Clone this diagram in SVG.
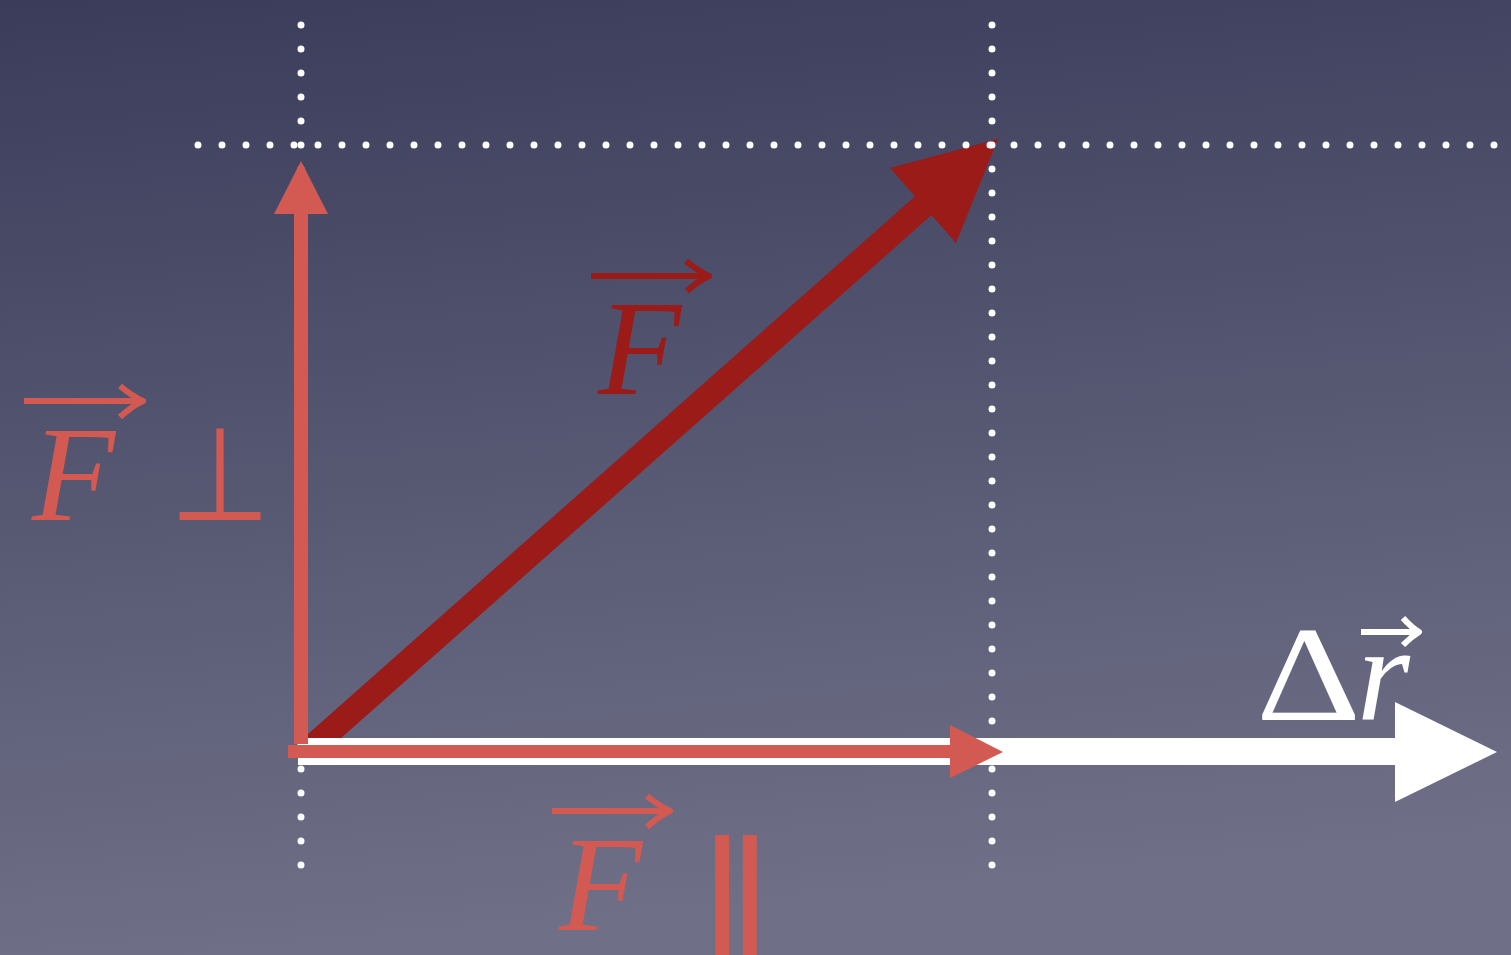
<svg xmlns="http://www.w3.org/2000/svg" width="1511" height="955" viewBox="0 0 1511 955">
  <defs>
    <linearGradient id="bg" x1="0" y1="0" x2="0.15" y2="1">
      <stop offset="0" stop-color="#3B3C5A"/>
      <stop offset="1" stop-color="#6F7087"/>
    </linearGradient>
    <style>
      .dots { stroke: #FFFFFF; stroke-width: 7; stroke-linecap: round; stroke-dasharray: 0 24; fill: none; }
      .lt { fill: #D35A52; }
      .dk { fill: #9A1B18; }
      .wh { fill: #FFFFFF; }
      .lbl { font-family: "Liberation Serif", "Times New Roman", serif; font-size: 136px; }
      .it { font-style: italic; }
      .sym { font-family: "DejaVu Sans", sans-serif; }
      .acc { fill: none; stroke-width: 6; stroke-linejoin: round; stroke-linecap: butt; }
      .accl { stroke: #D35A52; }
      .accd { stroke: #9A1B18; }
      .accw { stroke: #FFFFFF; }
    </style>
  </defs>
  <rect x="0" y="0" width="1511" height="955" fill="url(#bg)"/>

  <g id="force-vector">
    <line x1="311" y1="748" x2="924" y2="205" stroke="#9A1B18" stroke-width="25"/>
    <polygon class="dk" points="998,139 956,243 890,168"/>
  </g>

  <g id="guides">
    <line class="dots" x1="301" y1="25" x2="301" y2="866"/>
    <line class="dots" x1="992" y1="25" x2="992" y2="866"/>
    <line class="dots" x1="198" y1="145" x2="1496" y2="145"/>
  </g>

  <g id="displacement-vector">
    <rect class="wh" x="298" y="738" width="1099" height="27"/>
    <polygon class="wh" points="1395,702 1497,752 1395,802"/>
  </g>

  <g id="perpendicular-component">
    <rect class="lt" x="294" y="212" width="14" height="532"/>
    <polygon class="lt" points="301,161 328,214 274,214"/>
  </g>

  <g id="parallel-component">
    <rect class="lt" x="288" y="745" width="663" height="13"/>
    <polygon class="lt" points="950,725 1003,752 950,778"/>
  </g>

  <g id="label-F">
    <text class="lbl it" x="598" y="394" fill="#9A1B18">F</text>
    <line class="acc accd" x1="591" y1="276" x2="706" y2="276"/>
    <path class="acc accd" d="M686,261 Q698,271 709,276 Q698,281 687,291" stroke-width="5"/>
  </g>

  <g id="label-F-perp">
    <text class="lbl it" x="32" y="520" fill="#D35A52">F</text>
    <line class="acc accl" x1="24" y1="401" x2="140" y2="401"/>
    <path class="acc accl" d="M120,386 Q132,396 143,401 Q132,406 120,417" stroke-width="5"/>
    <text class="lbl sym" transform="translate(220,520) scale(0.85,0.96)" x="0" y="0" fill="#D35A52" text-anchor="middle">⊥</text>
  </g>

  <g id="label-F-parallel">
    <text class="lbl it" x="559" y="930" fill="#D35A52">F</text>
    <line class="acc accl" x1="552" y1="811" x2="667" y2="811"/>
    <path class="acc accl" d="M647,796 Q659,806 670,811 Q659,816 647,827" stroke-width="5"/>
    <text class="lbl sym" transform="translate(736,940) scale(1.3,1)" x="0" y="0" fill="#D35A52" text-anchor="middle">∥</text>
  </g>

  <g id="label-delta-r">
    <text class="lbl" transform="translate(1256,720) scale(1.2,1)" x="0" y="0" fill="#FFFFFF">Δ</text>
    <text class="lbl it" x="1357" y="720" fill="#FFFFFF">r</text>
    <line class="acc accw" x1="1361" y1="632" x2="1416" y2="632" stroke-width="5"/>
    <path class="acc accw" d="M1403,618 Q1411,627 1419,632 Q1411,637 1403,645" stroke-width="5"/>
  </g>
</svg>
